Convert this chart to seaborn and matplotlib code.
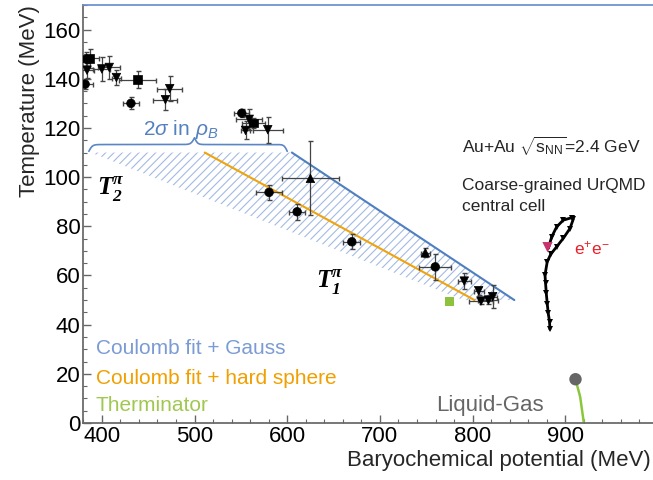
import numpy as np
import pandas as pd
import seaborn as sns
import matplotlib.pyplot as plt
from matplotlib.ticker import MultipleLocator

# freeze-out points (mu_B, T) with errors
mu_pts = [383, 387, 384, 382, 400, 408, 415.7, 438.6, 431.4, 473.2, 468.6,
          551, 559, 563.6, 555, 579, 580.4, 625, 610.7, 669.7, 749, 759.7,
          791, 806.5, 809, 817, 821.6]
T_pts = [148, 148.3, 143.5, 137.8, 144, 144.6, 140.5, 139.7, 130, 136, 131.5,
         126, 123.5, 122, 119, 119.3, 93.8, 99.5, 85.9, 73.7, 69.2, 63.5,
         57.7, 53.8, 49.6, 50, 51.4]
mu_err = [6, 10, 8, 8, 9, 12, 5, 20, 9, 13.4, 13,
          8, 14, 12, 5, 16, 14, 31, 9, 9, 4.5, 17,
          7, 5.4, 12.5, 10.7, 5]
T_err = [3, 4, 3, 2, 4.9, 4.6, 3, 3.6, 2.4, 5.2, 4.4,
         1.6, 4.4, 2, 3.7, 5.3, 3, 15, 3.3, 3, 1.8, 5.4,
         3.2, 1.7, 1, 1.5, 4.7]
shape = ['circle', 'square', 'down', 'circle', 'down', 'down', 'down', 'square',
         'circle', 'down', 'down', 'circle', 'down', 'square', 'down', 'down',
         'circle', 'up', 'circle', 'circle', 'up', 'circle', 'down', 'down',
         'down', 'down', 'down']

# Coulomb fit + Gauss band (hatched) and its upper edge
band_mu = [388, 605, 845, 790]
band_T = [110, 110, 50, 50]
gauss_mu = [605, 845]
gauss_T = [110, 50]

# Coulomb fit + hard sphere
hs_mu = [511, 802]
hs_T = [110, 50]

# Therminator
therm_mu = [775]
therm_T = [49.3]

# coarse-grained UrQMD central cell trajectory
urqmd_mu = [881.6, 885.3, 890.7, 897.8, 906.9, 908.6, 905.0, 897.8, 890.7,
            884.2, 880.5, 878.1, 878.7, 879.5, 880.5, 881.6, 883.0, 883.4]
urqmd_T = [71.0, 75.7, 79.8, 82.5, 83.5, 82.9, 79.1, 75.1, 71.7,
           68.6, 65.6, 60.2, 56.8, 52.7, 48.6, 44.6, 41.2, 38.1]
ee_mu = [880.8]
ee_T = [71.5]

# liquid-gas line and critical point
lg_mu = [911, 916, 920]
lg_T = [17.8, 10.7, 0]

sns.set_theme(style='ticks')
plt.rcParams['font.family'] = ['Liberation Sans', 'DejaVu Sans']
plt.rcParams['mathtext.fontset'] = 'custom'
plt.rcParams['mathtext.rm'] = 'Liberation Sans'
plt.rcParams['mathtext.it'] = 'Liberation Sans:italic'
plt.rcParams['mathtext.bf'] = 'Liberation Serif:bold:italic'
plt.rcParams['hatch.linewidth'] = 0.8

fig = plt.figure(figsize=(6.53, 4.8), dpi=100)
ax = fig.add_axes([83.3 / 653, 57 / 480, (658 - 83.3) / 653, 418 / 480])

blue = '#4f7fc0'
orange = '#f0a30a'
green = '#8cc63f'

ax.fill(band_mu, band_T, facecolor='none', edgecolor='#a3bbe2', lw=0,
        hatch='////', zorder=1)
sns.lineplot(x=gauss_mu, y=gauss_T, color=blue, lw=1.5, ax=ax)
sns.lineplot(x=hs_mu, y=hs_T, color=orange, lw=1.5, ax=ax)


# curly brace over the band, tip not centred
def half_brace(xa, xb, ybase, h, beta):
    t = np.linspace(0, 1, 200)
    yh = 1 / (1 + np.exp(-beta * t)) + 1 / (1 + np.exp(-beta * (t - 1)))
    yh = (yh - yh[0]) / (yh[-1] - yh[0])
    return xa + t * (xb - xa), ybase + h * yh


lx, ly = half_brace(386, 500, 110.5, 5.5, 60)
rx, ry = half_brace(600, 500, 110.5, 5.5, 60)
ax.plot(np.concatenate([lx, rx[::-1]]), np.concatenate([ly, ry[::-1]]),
        color='#5b86c5', lw=1.2)
ax.text(485, 119.5, r'$2\sigma$ in $\rho_B$', color='#5580c0', fontsize=15,
        ha='center', va='center')

pts = pd.DataFrame({'mu': mu_pts, 'T': T_pts, 'kind': shape})
ax.errorbar(mu_pts, T_pts, xerr=mu_err, yerr=T_err, fmt='none',
            ecolor='#444444', elinewidth=0.9, capsize=1.8, zorder=4)
sns.scatterplot(data=pts, x='mu', y='T', style='kind',
                markers={'circle': 'o', 'square': 's', 'down': 'v', 'up': '^'},
                color='black', s=38, edgecolor='black', legend=False,
                ax=ax, zorder=5)

sns.scatterplot(x=therm_mu, y=therm_T, marker='s', color='#8dc23f', s=45,
                edgecolor='none', ax=ax, zorder=5)

sns.lineplot(x=urqmd_mu, y=urqmd_T, sort=False, estimator=None, color='black',
             lw=2, marker='v', markersize=4, markeredgecolor='black',
             markeredgewidth=0, ax=ax, zorder=6)
sns.scatterplot(x=ee_mu, y=ee_T, marker='v', color='#c8326e', s=55,
                edgecolor='none', ax=ax, zorder=7)

sns.lineplot(x=lg_mu, y=lg_T, sort=False, estimator=None, color=green,
             lw=1.8, ax=ax)
sns.scatterplot(x=lg_mu[:1], y=lg_T[:1], color='#666666', s=80,
                edgecolor='none', ax=ax, zorder=6)

# annotations
ax.text(395, 95, r'$\mathbf{T}_{\mathbf{2}}^{\mathbf{\pi}}$', fontsize=18,
        ha='left', va='center', color='black')
ax.text(646, 57, r'$\mathbf{T}_{\mathbf{1}}^{\mathbf{\pi}}$', fontsize=18,
        ha='center', va='center', color='black')
ax.text(789, 112.3, r'Au+Au $\sqrt{\mathrm{s}_{\mathrm{NN}}}$=2.4 GeV',
        fontsize=12.5, ha='left', va='center')
ax.text(789, 96.7, 'Coarse-grained UrQMD', fontsize=12.5, ha='left', va='center')
ax.text(789, 88, 'central cell', fontsize=12.5, ha='left', va='center')
ax.text(909, 71, r'e$^{+}$e$^{-}$', color='#e8202a', fontsize=12.5,
        ha='left', va='center')
ax.text(877, 7.3, 'Liquid-Gas', color='#666666', fontsize=16,
        ha='right', va='center')
ax.text(393.6, 30.5, 'Coulomb fit + Gauss', color='#7b9bd5', fontsize=15,
        ha='left', va='center')
ax.text(393.6, 18.3, 'Coulomb fit + hard sphere', color='#f0a000', fontsize=15,
        ha='left', va='center')
ax.text(393.6, 7.3, 'Therminator', color='#a0c850', fontsize=15,
        ha='left', va='center')

ax.set_xlim(380, 1000)
ax.set_ylim(0, 170)
ax.set_xticks(range(400, 901, 100))
ax.xaxis.set_minor_locator(MultipleLocator(20))
ax.yaxis.set_major_locator(MultipleLocator(20))
ax.yaxis.set_minor_locator(MultipleLocator(5))
ax.tick_params(which='both', direction='in', top=False, right=False,
               colors='#666666', labelcolor='black', labelsize=16, pad=2)
ax.tick_params(which='major', length=6, width=1)
ax.tick_params(which='minor', length=3, width=0.8)
for side in ['left', 'bottom']:
    ax.spines[side].set_color('#666666')
ax.spines['top'].set_color('#6a90cc')
ax.spines['right'].set_visible(False)

ax.set_xlabel('Baryochemical potential (MeV)', fontsize=16, ha='right')
ax.xaxis.set_label_coords((651 - 83.3) / (658 - 83.3), -0.065)
ax.set_ylabel('Temperature (MeV)', fontsize=16, loc='top', labelpad=2)

fig.savefig('out.png', dpi=100)
